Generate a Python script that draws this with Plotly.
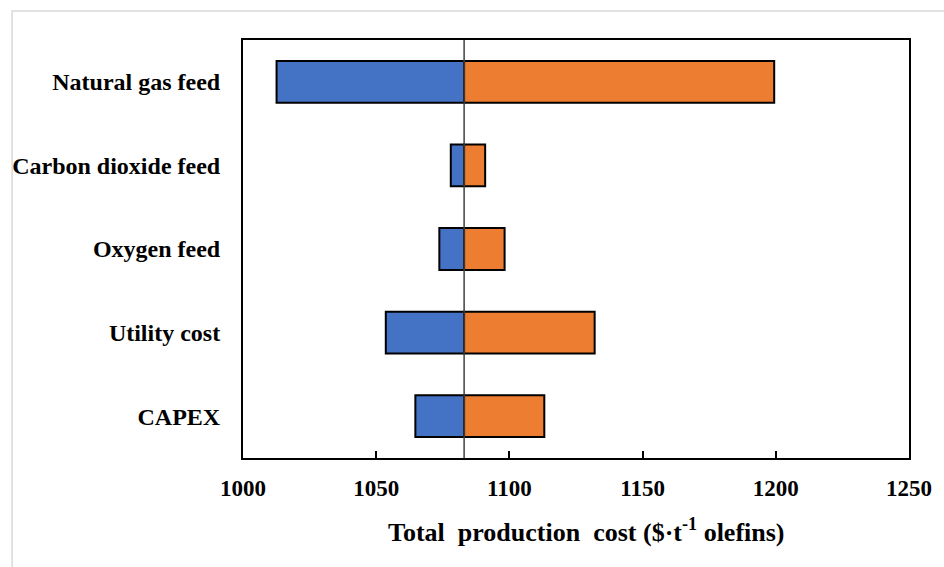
import plotly.graph_objects as go

# Sensitivity of total production cost to each input (low / high cases)
categories = ["Natural gas feed", "Carbon dioxide feed", "Oxygen feed", "Utility cost", "CAPEX"]
base_cost = 1083.0
low_cost = [1012.6, 1078.0, 1073.7, 1053.6, 1064.7]
high_cost = [1199.4, 1090.9, 1098.2, 1132.0, 1113.1]
x_ticks = [1000, 1050, 1100, 1150, 1200, 1250]
x_title = "Total\u00a0 production\u00a0 cost ($\u00b7t<sup>-1</sup> olefins)"

FONT = "Liberation Serif"
BLUE = "#4472C4"
ORANGE = "#ED7D31"

fig = go.Figure()
fig.add_trace(go.Bar(
    y=categories,
    x=[v - base_cost for v in low_cost],
    base=base_cost,
    orientation="h",
    marker=dict(color=BLUE, line=dict(color="black", width=2)),
    width=0.5,
    showlegend=False,
))
fig.add_trace(go.Bar(
    y=categories,
    x=[v - base_cost for v in high_cost],
    base=base_cost,
    orientation="h",
    marker=dict(color=ORANGE, line=dict(color="black", width=2)),
    width=0.5,
    showlegend=False,
))

# Base-case reference line
fig.add_shape(type="line", xref="x", yref="paper", x0=base_cost, x1=base_cost,
              y0=0, y1=1, line=dict(color="#404040", width=1.5), layer="above")

# Light frame around the whole figure
fig.add_shape(type="rect", xref="paper", yref="paper",
              x0=-0.3467, x1=1.06, y0=-0.27, y1=1.0694,
              line=dict(color="#d9d9d9", width=1.5), fillcolor="rgba(0,0,0,0)")

# X-axis title
fig.add_annotation(text=x_title, xref="paper", yref="paper", x=0.516, y=-0.1746,
                   xanchor="center", yanchor="middle", showarrow=False,
                   font=dict(family=FONT, size=26, color="black", weight="bold"))

fig.update_layout(
    width=944, height=567,
    margin=dict(l=241, r=30, t=40, b=109),
    paper_bgcolor="white", plot_bgcolor="white",
    barmode="overlay",
    font=dict(family=FONT, size=23, color="black"),
    xaxis=dict(
        range=[1000, 1250], tickvals=x_ticks, ticktext=[str(t) for t in x_ticks],
        ticks="inside", ticklen=7, tickwidth=2, tickcolor="black",
        showline=True, linecolor="black", linewidth=2, mirror=True,
        showgrid=False, zeroline=False,
        tickfont=dict(family=FONT, size=23, color="black", weight="bold"),
        ticklabelstandoff=8,
    ),
    yaxis=dict(
        categoryorder="array", categoryarray=categories, autorange="reversed",
        showline=True, linecolor="black", linewidth=2, mirror=True,
        showgrid=False, zeroline=False, ticks="",
        tickfont=dict(family=FONT, size=24, color="black", weight="bold"),
        ticklabelstandoff=16,
    ),
)

fig.write_html("out.html")
